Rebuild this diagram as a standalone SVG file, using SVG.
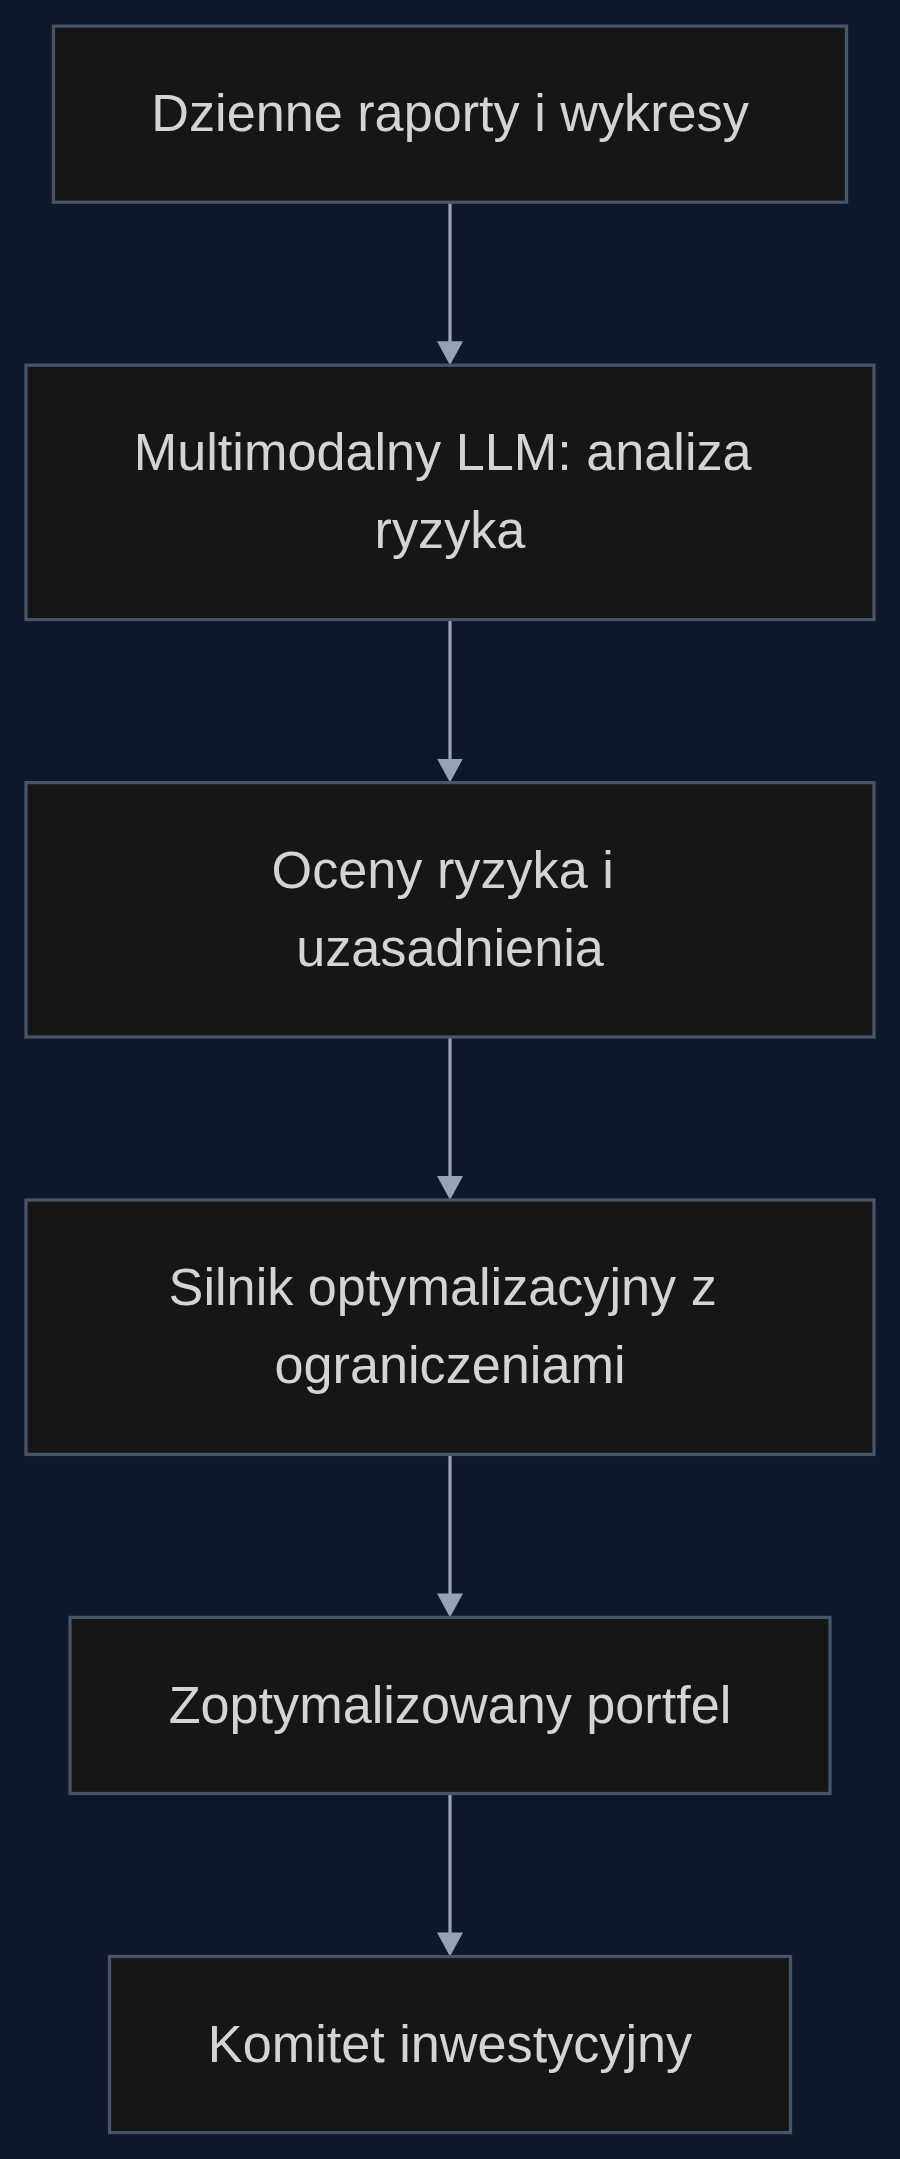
<svg xmlns="http://www.w3.org/2000/svg" width="900" height="2159" viewBox="0 0 900 2159">
  <style>
    .node rect { fill: #161616; stroke: #475569; stroke-width: 3.26; }
    .node text { fill: #d4d4d4; font-family: "Liberation Sans", Arial, sans-serif; font-size: 52.2px; text-anchor: middle; }
    .edge { stroke: #94a3b8; stroke-width: 3.26; fill: none; marker-end: url(#arrow); }
  </style>
  <defs>
    <marker id="arrow" viewBox="0 0 10 10" preserveAspectRatio="none" markerUnits="userSpaceOnUse" markerWidth="24" markerHeight="26" refX="6.67" refY="5" orient="auto">
      <path d="M0,0 L10,5 L0,10 z" fill="#94a3b8"/>
    </marker>
  </defs>
  <rect x="0" y="0" width="900" height="2159" fill="#0f172a"/>
  <g id="connectors">
    <line class="edge" x1="450" y1="202.2" x2="450" y2="357.2"/>
    <line class="edge" x1="450" y1="619.6" x2="450" y2="774.6"/>
    <line class="edge" x1="450" y1="1037" x2="450" y2="1192"/>
    <line class="edge" x1="450" y1="1454.4" x2="450" y2="1609.4"/>
    <line class="edge" x1="450" y1="1793.5" x2="450" y2="1948.5"/>
  </g>
  <g id="node1" class="node">
    <rect x="53.45" y="26.1" width="793.1" height="176.1"/>
    <text x="450" y="131.2">Dzienne raporty i wykresy</text>
  </g>
  <g id="node2" class="node">
    <rect x="26" y="365.2" width="848" height="254.4"/>
    <text x="442.7" y="470.4">Multimodalny LLM: analiza</text>
    <text x="450" y="548.4">ryzyka</text>
  </g>
  <g id="node3" class="node">
    <rect x="26" y="782.6" width="848" height="254.4"/>
    <text x="442.7" y="887.8">Oceny ryzyka i</text>
    <text x="450" y="965.8">uzasadnienia</text>
  </g>
  <g id="node4" class="node">
    <rect x="26" y="1200" width="848" height="254.4"/>
    <text x="442.7" y="1305.2">Silnik optymalizacyjny z</text>
    <text x="450" y="1383.2">ograniczeniami</text>
  </g>
  <g id="node5" class="node">
    <rect x="70" y="1617.4" width="760" height="176.1"/>
    <text x="450" y="1722.5">Zoptymalizowany portfel</text>
  </g>
  <g id="node6" class="node">
    <rect x="109.5" y="1956.5" width="681" height="176.1"/>
    <text x="450" y="2061.6">Komitet inwestycyjny</text>
  </g>
</svg>
